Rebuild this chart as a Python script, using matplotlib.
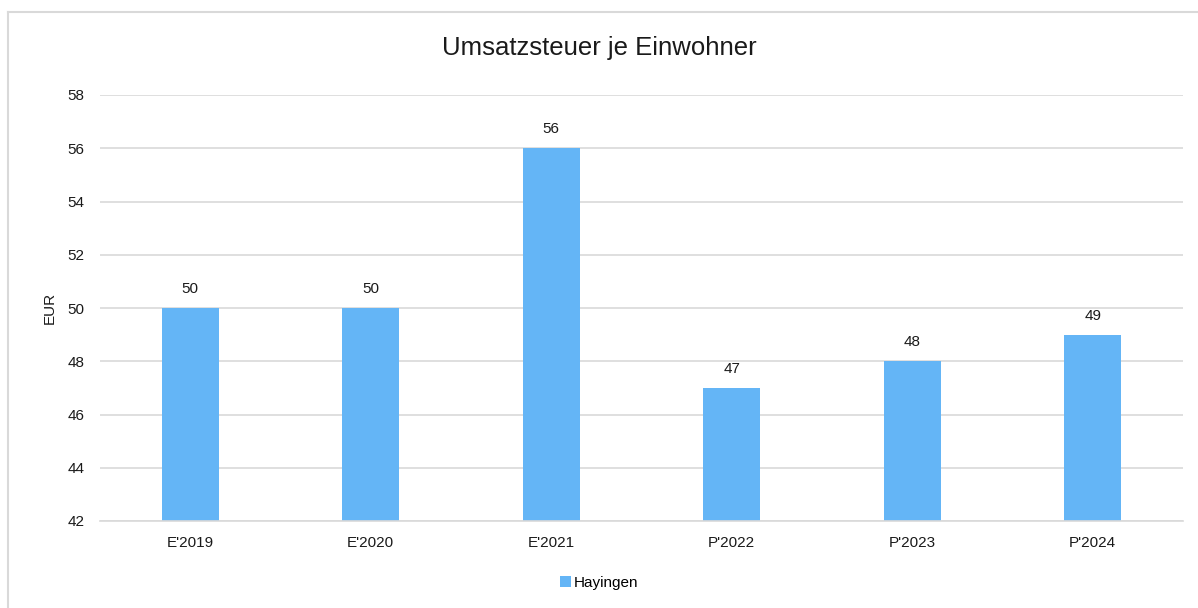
import matplotlib

matplotlib.use("Agg")
import matplotlib.pyplot as plt
from matplotlib.lines import Line2D

plt.rcParams["font.family"] = ["Liberation Sans", "DejaVu Sans"]

categories = ["E'2019", "E'2020", "E'2021", "P'2022", "P'2023", "P'2024"]
values = [50, 50, 56, 47, 48, 49]
series_name = "Hayingen"
y_ticks = [42, 44, 46, 48, 50, 52, 54, 56, 58]

BAR_COLOR = "#64B5F6"
GRID_COLOR = "#D9D9D9"
TEXT_COLOR = "#1a1a1a"

fig = plt.figure(figsize=(11.98, 6.08), dpi=100)
W, H = 1198, 608

# outer chart border: only top and left edges are visible in the source
fig.add_artist(Line2D([8 / W, 1.0], [1 - 12 / H] * 2, transform=fig.transFigure,
                      color=GRID_COLOR, linewidth=1.5))
fig.add_artist(Line2D([8 / W] * 2, [0.0, 1 - 12 / H], transform=fig.transFigure,
                      color=GRID_COLOR, linewidth=1.5))

ax = fig.add_axes([100 / W, 1 - 521 / H, (1183 - 100) / W, (521 - 95) / H])
x = range(len(categories))
bars = ax.bar(x, values, width=0.316, color=BAR_COLOR, label=series_name, zorder=2)

for b, v in zip(bars, values):
    ax.text(b.get_x() + b.get_width() / 2, v + 0.45, f"{v}",
            ha="center", va="bottom", fontsize=11, color=TEXT_COLOR)

ax.set_xlim(-0.5, len(categories) - 0.5)
ax.set_ylim(42, 58)
ax.set_yticks(y_ticks)
ax.set_xticks(list(x))
ax.set_xticklabels(categories)
ax.tick_params(axis="both", length=0, labelsize=11, colors=TEXT_COLOR)
ax.tick_params(axis="y", pad=11)
ax.tick_params(axis="x", pad=11)
ax.grid(True, axis="y", color=GRID_COLOR, linewidth=1.2, zorder=0)
for s in ["top", "right", "left"]:
    ax.spines[s].set_visible(False)
ax.spines["bottom"].set_color(GRID_COLOR)
ax.spines["bottom"].set_linewidth(1.2)

ax.set_ylabel("EUR", fontsize=11, color=TEXT_COLOR, labelpad=8)
fig.text(0.5, 1 - 48 / H, "Umsatzsteuer je Einwohner", ha="center", va="center",
         fontsize=18.5, color=TEXT_COLOR)

fig.legend(handles=[bars], labels=[series_name], loc="center",
           bbox_to_anchor=(0.5, 1 - 583 / H), frameon=False, fontsize=11,
           handlelength=0.7, handleheight=0.7, handletextpad=0.2)

fig.savefig("out.png", dpi=100)
